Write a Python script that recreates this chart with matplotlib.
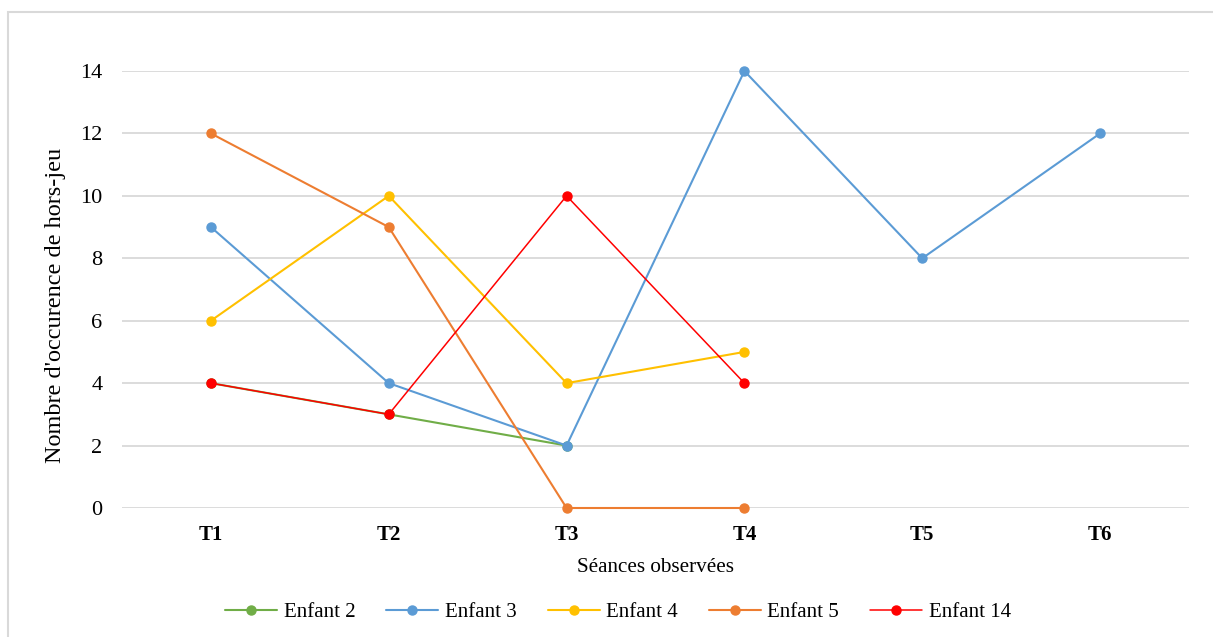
import matplotlib
matplotlib.use("Agg")
import matplotlib.pyplot as plt
from matplotlib.patches import Rectangle
import numpy as np

plt.rcParams['font.family'] = ['Liberation Serif', 'DejaVu Serif']

categories = ["T1", "T2", "T3", "T4", "T5", "T6"]
series_names = ["Enfant 2", "Enfant 3", "Enfant 4", "Enfant 5", "Enfant 14"]
enfant2 = [4, 3, 2]
enfant3 = [9, 4, 2, 14, 8, 12]
enfant4 = [6, 10, 4, 5]
enfant5 = [12, 9, 0, 0]
enfant14 = [4, 3, 10, 4]
series_values = [enfant2, enfant3, enfant4, enfant5, enfant14]
colors = ["#70AD47", "#5B9BD5", "#FFC000", "#ED7D31", "#FF0000"]
linewidths = [1.5, 1.5, 1.5, 1.5, 1.1]
yticks = [0, 2, 4, 6, 8, 10, 12, 14]

W, H = 1213, 637
fig = plt.figure(figsize=(W / 100, H / 100), dpi=100)
ax = fig.add_axes([122 / W, 1 - 508 / H, 1067 / W, 437 / H])

for name, vals, c, lw in zip(series_names, series_values, colors, linewidths):
    x = np.arange(len(vals))
    ax.plot(x, vals, color=c, lw=lw, marker='o', markersize=6.5, label=name,
            solid_capstyle='round', zorder=3, clip_on=False)

ax.set_xlim(-0.5, len(categories) - 0.5)
ax.set_ylim(0, 14)
ax.set_yticks(yticks)
ax.set_yticklabels([str(v) for v in yticks], fontsize=16)
ax.set_xticks(np.arange(len(categories)))
ax.set_xticklabels(categories, fontsize=15, fontweight='bold')
ax.tick_params(axis='both', length=0)
ax.tick_params(axis='y', pad=14)
ax.tick_params(axis='x', pad=12)
ax.grid(axis='y', color='#D9D9D9', lw=1.3, zorder=0)
for s in ax.spines.values():
    s.set_visible(False)

fig.text(55 / W, 1 - 305 / H, "Nombre d'occurence de hors-jeu", fontsize=17.5,
         rotation=90, ha='center', va='center')
fig.text(655.5 / W, 1 - 567 / H, "Séances observées", fontsize=15.2,
         ha='center', va='center')

leg = fig.legend(loc='center', bbox_to_anchor=(618 / W, 1 - 612 / H), ncol=5,
                 frameon=False, fontsize=15, handlelength=2.5, columnspacing=1.5,
                 handletextpad=0.3)

fig.patches.append(Rectangle((7.5 / W, -0.1), 1.2, 1 - 11.5 / H + 0.1,
                             transform=fig.transFigure, fill=False,
                             edgecolor='#D9D9D9', lw=1.5))

fig.savefig("out.png", dpi=100)
